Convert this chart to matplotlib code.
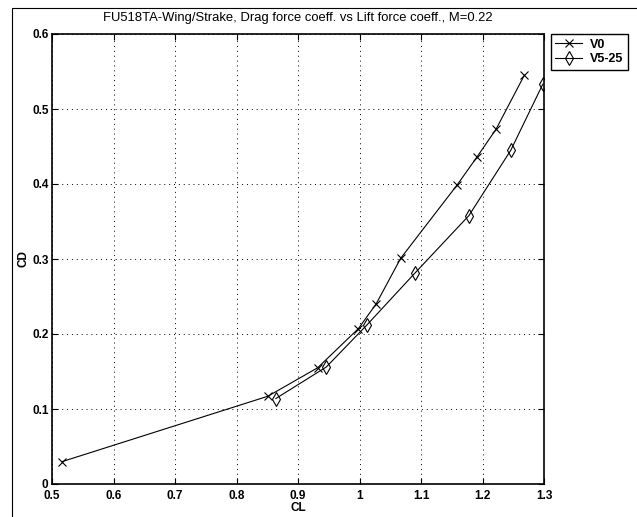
import matplotlib
matplotlib.use("Agg")
import matplotlib.pyplot as plt
from matplotlib.patches import Rectangle

plt.rcParams['font.family'] = ['Liberation Sans', 'DejaVu Sans']

# V0 series
cl_v0 = [0.517, 0.851, 0.932, 0.998, 1.027, 1.067, 1.159, 1.191, 1.222, 1.268]
cd_v0 = [0.030, 0.117, 0.155, 0.207, 0.240, 0.301, 0.399, 0.436, 0.473, 0.545]

# V5-25 series
cl_v525 = [0.864, 0.946, 1.012, 1.091, 1.178, 1.246, 1.298]
cd_v525 = [0.114, 0.156, 0.212, 0.282, 0.358, 0.445, 0.533]

xticks = [0.5, 0.6, 0.7, 0.8, 0.9, 1.0, 1.1, 1.2, 1.3]
xtick_labels = ['0.5', '0.6', '0.7', '0.8', '0.9', '1', '1.1', '1.2', '1.3']
yticks = [0, 0.1, 0.2, 0.3, 0.4, 0.5, 0.6]
ytick_labels = ['0', '0.1', '0.2', '0.3', '0.4', '0.5', '0.6']

fig = plt.figure(figsize=(6.37, 5.17), dpi=100)
ax = fig.add_axes([52 / 637, 1 - 484 / 517, 492 / 637, 450 / 517])

ax.plot(cl_v0, cd_v0, color='black', lw=0.8, marker='x', ms=5.5, mew=0.8, label='V0')
ax.plot(cl_v525, cd_v525, color='black', lw=0.8, marker='d', ms=7, mew=0.8,
        mfc='none', label='V5-25')

ax.set_xlim(0.5, 1.3)
ax.set_ylim(0, 0.6)
ax.set_xticks(xticks)
ax.set_xticklabels(xtick_labels)
ax.set_yticks(yticks)
ax.set_yticklabels(ytick_labels)
ax.grid(True, color='black', linestyle=(0, (1, 4)), linewidth=0.7)
ax.tick_params(direction='in', top=True, right=True, length=4, width=0.8,
               labelsize=8.5)
ax.tick_params(axis='x', pad=4.5)
ax.tick_params(axis='y', pad=2.5)
for lbl in ax.get_xticklabels() + ax.get_yticklabels():
    lbl.set_fontweight('bold')
for sp in ax.spines.values():
    sp.set_linewidth(1.2)

ax.set_xlabel('CL', fontsize=8.5, fontweight='bold', labelpad=0)
ax.set_ylabel('CD', fontsize=8.5, fontweight='bold', labelpad=2)
ax.set_title('FU518TA-Wing/Strake, Drag force coeff. vs Lift force coeff., M=0.22',
             fontsize=9.4, pad=9)

leg = ax.legend(loc='upper left', bbox_to_anchor=(551 / 637, 1 - 34 / 517),
                bbox_transform=fig.transFigure, fancybox=False, framealpha=1,
                edgecolor='black', prop={'size': 9, 'weight': 'bold'},
                handlelength=2.1, borderaxespad=0, borderpad=0.35,
                labelspacing=0.15, handletextpad=0.7, handleheight=0.9)
leg.get_frame().set_linewidth(1.0)

# frame around the figure (screenshot border)
fig.patches.append(Rectangle((12 / 637, -0.05), 1.2, 1 - 8 / 517 + 0.05,
                             transform=fig.transFigure, fill=False,
                             edgecolor='black', linewidth=0.8))

fig.savefig('out.png', dpi=100)
